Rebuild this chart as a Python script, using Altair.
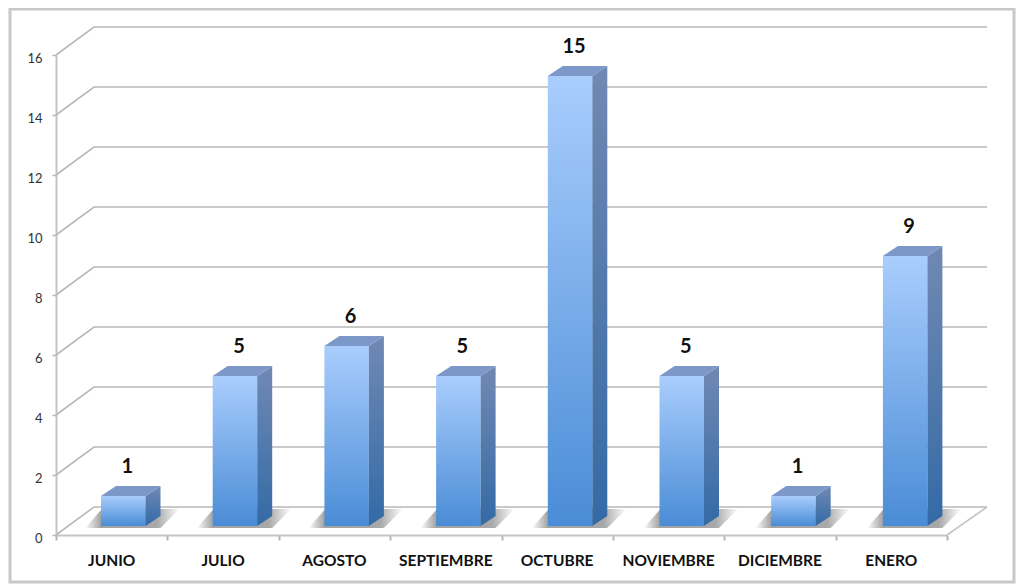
import altair as alt
import pandas as pd

months = ["JUNIO", "JULIO", "AGOSTO", "SEPTIEMBRE", "OCTUBRE", "NOVIEMBRE", "DICIEMBRE", "ENERO"]
values = [1, 5, 6, 5, 15, 5, 1, 9]
y_ticks = [0, 2, 4, 6, 8, 10, 12, 14, 16]

PX_U = 891 / 8
PX_V = 30
WALL_U, WALL_V = 38 / PX_U, 28 / PX_V
BACK_END = 8 + 40 / PX_U
BAR_L, BAR_W = 45 / PX_U, 44.5 / PX_U
BAR_STEP = 111.7 / PX_U
DEPTH_U, DEPTH_V = 15 / PX_U, 10 / PX_V
BASE_V = 9 / PX_V

xs = alt.Scale(domain=[0, 8], nice=False, zero=False)
ys = alt.Scale(domain=[0, 16], nice=False, zero=False)
xaxis = alt.Axis(
    values=list(range(9)), labels=False, grid=False, domainColor="#c4c4c4", domainWidth=2,
    tickColor="#b4b4b4", tickWidth=2, tickSize=5, title=None)
yaxis = alt.Axis(
    values=y_ticks, grid=False, domainColor="#c4c4c4", domainWidth=2,
    tickColor="#b4b4b4", tickWidth=1.5, tickSize=4, labelPadding=10, labelOffset=3,
    labelFont="Lato", labelFontSize=13, labelColor="#333333", title=None)
X = lambda f="u": alt.X(f, type="quantitative", scale=xs, axis=xaxis)
Y = lambda f="v": alt.Y(f, type="quantitative", scale=ys, axis=yaxis)

bars = pd.DataFrame({"i": range(8), "month": months, "value": values})
bars["l"] = bars.i * BAR_STEP + BAR_L
bars["r"] = bars.l + BAR_W
bars["b"] = BASE_V
bars["c"] = bars.l + BAR_W / 2 + 4 / PX_U
bars["lab"] = bars.i + 0.5
bars["zero"] = 0

grid_rows = []
for t in y_ticks:
    grid_rows += [
        {"t": t, "u": 0, "v": t},
        {"t": t, "u": WALL_U, "v": t + WALL_V},
        {"t": t, "u": BACK_END, "v": t + WALL_V},
    ]
grid = pd.DataFrame(grid_rows)
edge = pd.DataFrame({"u": [8, BACK_END], "v": [0, WALL_V]})

side_rows, top_rows, shadow_rows = [], [], []
for idx, val in enumerate(values):
    l = idx * BAR_STEP + BAR_L
    r = l + BAR_W
    b = BASE_V
    t0 = b + val
    side_rows += [
        {"i": idx, "u": r, "v": b, "v2": t0},
        {"i": idx, "u": r + DEPTH_U, "v": b + DEPTH_V, "v2": t0 + DEPTH_V},
    ]
    top_rows += [
        {"i": idx, "u": l, "v": t0, "v2": t0},
        {"i": idx, "u": l + DEPTH_U, "v": t0, "v2": t0 + DEPTH_V},
        {"i": idx, "u": r, "v": t0, "v2": t0 + DEPTH_V},
        {"i": idx, "u": r + DEPTH_U, "v": t0 + DEPTH_V, "v2": t0 + DEPTH_V},
    ]
    s0, s1 = b - 2 / PX_V, b + 17 / PX_V
    sl = l - 16 / PX_U
    shadow_rows += [
        {"i": idx, "u": sl, "v": s0, "v2": s0},
        {"i": idx, "u": sl + 17 / PX_U, "v": s0, "v2": s1},
        {"i": idx, "u": r + 15 / PX_U, "v": s0, "v2": s1},
        {"i": idx, "u": r + 34 / PX_U, "v": s1, "v2": s1},
    ]
side, top, shadow = pd.DataFrame(side_rows), pd.DataFrame(top_rows), pd.DataFrame(shadow_rows)


def vgrad(c_top, c_bottom):
    return alt.Gradient(
        gradient="linear", x1=0, x2=0, y1=0, y2=1,
        stops=[alt.GradientStop(offset=0, color=c_top), alt.GradientStop(offset=1, color=c_bottom)],
    )


shadow_grad = alt.Gradient(
    gradient="linear", x1=0, x2=1, y1=0, y2=0,
    stops=[
        alt.GradientStop(offset=0, color="#ffffff"),
        alt.GradientStop(offset=0.17, color="#a2a2a2"),
        alt.GradientStop(offset=0.76, color="#a8a8a8"),
        alt.GradientStop(offset=1, color="#ffffff"),
    ],
)

frame = alt.Chart(pd.DataFrame({"a": [0]})).mark_rect(
    fill="transparent", stroke="#c8c8c8", strokeWidth=3
).encode(
    x=alt.value(-46), x2=alt.value(958), y=alt.value(-46), y2=alt.value(527)
)

grid_l = alt.Chart(grid).mark_line(color="#b8b8b8", strokeWidth=1.6).encode(
    x=X(), y=Y(), detail="t:N", order="u:Q"
)
edge_l = alt.Chart(edge).mark_line(color="#c4c4c4", strokeWidth=1.6).encode(x=X(), y=Y())

shadow_l = alt.Chart(shadow).mark_area(color=shadow_grad).encode(
    x=X(), y=Y(), y2=alt.Y2("v2"), detail="i:N"
)
front_l = alt.Chart(bars).transform_calculate(t="datum.b + datum.value").mark_rect(
    color=vgrad("#a9cdfd", "#4a8cd6")
).encode(x=X("l"), x2="r:Q", y=Y("b"), y2="t:Q")
side_l = alt.Chart(side).mark_area(color=vgrad("#7189b3", "#336aa6")).encode(
    x=X(), y=Y(), y2=alt.Y2("v2"), detail="i:N"
)
top_l = alt.Chart(top).mark_area(color="#7b98c8").encode(
    x=X(), y=Y(), y2=alt.Y2("v2"), detail="i:N"
)

value_l = alt.Chart(bars).transform_calculate(t="datum.b + datum.value").mark_text(
    font="Lato", fontWeight="bold", fontSize=20, color="#111111", yOffset=-29, align="center", baseline="middle"
).encode(x=X("c"), y=Y("t"), text="value:Q")

month_l = alt.Chart(bars).mark_text(
    font="Lato", fontWeight="bold", fontSize=15.5, color="#111111", yOffset=26, align="center", baseline="middle"
).encode(x=X("lab"), y=Y("zero"), text="month:N")

chart = alt.layer(
    frame, grid_l, edge_l, shadow_l, front_l, side_l, top_l, value_l, month_l
).properties(
    width=891, height=480,
    autosize=alt.AutoSizeParams(type="none"),
    padding={"left": 48, "top": 47, "right": 69, "bottom": 50},
).configure_view(stroke=None)

chart.save("out.html", embed_options={"renderer": "svg", "actions": False})
